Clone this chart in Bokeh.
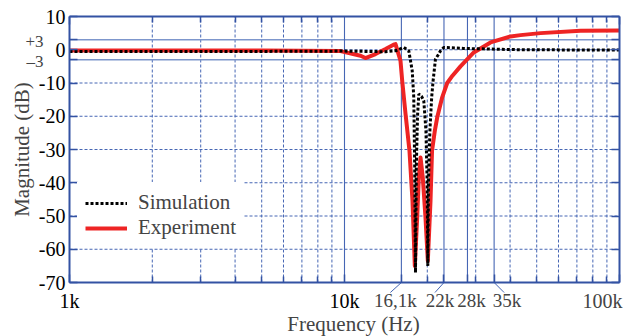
import math
from bokeh.plotting import figure
from bokeh.models import (Range1d, FixedTicker, LogAxis, LinearAxis, LogScale, Label,
                          Legend, LegendItem)
from bokeh.embed import file_html
from bokeh.resources import INLINE

# ---------------- data ----------------
sim_freq = [1000, 5000, 10000, 14100, 15330, 16430, 17130, 17630, 17860, 18000, 18120,
            18250, 18430, 18630, 19050, 19420, 19780, 19980, 20090, 20200, 20450, 20750,
            21000, 21420, 22020, 22340, 23000, 27080, 33960, 43650, 100000]
sim_db = [-0.5, -0.5, -0.4, -0.6, -0.3, 0.7, -0.3, -6.3, -14.3, -35, -67,
          -35, -20, -13.3, -14, -15.3, -24.4, -40, -65, -40, -24, -14.3,
          -9.3, -2.8, -1.3, -0.3, 0.7, 0.4, 0.2, 0.0, -0.1]

exp_freq = [1000, 5000, 6918, 9670, 11440, 11920, 12970, 14100, 15080, 15330, 15980,
            16210, 16670, 17230, 17670, 18020, 18380, 18630, 18900, 19260, 19700, 20090,
            20550, 20810, 21300, 21730, 22660, 23630, 24700, 26410, 29530, 33960, 40140,
            43650, 51620, 72140, 100000]
exp_db = [-0.2, -0.2, -0.3, -0.4, -1.8, -2.5, -1.3, 0.2, 1.5, 1.7, -3.3,
          -9.3, -19.3, -30.4, -45.4, -65, -50.4, -38.4, -32.4, -38.4, -50.4, -63.5,
          -45.4, -30.4, -24.4, -20.4, -14.3, -10, -7.8, -5.0, -0.8, 2.2, 4.0,
          4.4, 5.0, 5.7, 5.8]

y_ticks = [-70, -60, -50, -40, -30, -20, -10, 0, 10]
y_tick_labels = ["-70", "-60", "-50", "-40", "-30", "-20", "-10", "0", "10"]
y_grid = [-60, -50, -40, -30, -20, -10, 0]
band_db = [3, -3]
band_labels = ["+3", "\u20133"]

x_ticks = [1000, 10000, 16100, 23000, 28000, 35000, 100000]
x_tick_labels = ["1k", "10k", "", "", "", "", ""]
x_minor = [2000, 3000, 4000, 5000, 6000, 7000, 8000, 9000,
           20000, 30000, 40000, 50000, 60000, 70000, 80000, 90000]
x_solid = [10000, 16100, 23000, 28000, 35000]

marker_freqs = [16100, 23000, 28000, 35000, 100000]
marker_labels = ["16,1k", "22k", "28k", "35k", "100k"]
marker_label_dx = [-6, -4, 4, 13, -17]     # px shift of label from its tick
marker_leader_dx = [-11, -9, 0, 10, 0]     # px run of leader line (0 = none)

# ---------------- layout / style ----------------
BLUE = "#3352a3"
GRID = "#4666b4"
LIGHT = "#7d96cc"
RED = "#ee2424"
FONT = "Liberation Serif"

W, H = 624, 336
L, R, T, B = 69, 5, 16, 54           # box inset inside the canvas, px
XMIN, XMAX, YMIN, YMAX = 1000, 100000, -70, 10
ppd = (W - L - R) / (math.log10(XMAX) - math.log10(XMIN))   # px per decade
ppdb = (H - T - B) / (YMAX - YMIN)                          # px per dB

x_range = Range1d(10 ** (math.log10(XMIN) - L / ppd), 10 ** (math.log10(XMAX) + R / ppd))
y_range = Range1d(YMIN - B / ppdb, YMAX + T / ppdb)

p = figure(width=W, height=H, x_axis_type="log", x_axis_location=None,
           y_axis_location=None, output_backend="svg", toolbar_location=None,
           x_range=x_range, y_range=y_range, min_border=0)
p.x_scale = LogScale()
p.background_fill_color = "white"
p.border_fill_color = "white"
p.outline_line_color = None
p.grid.visible = False

# ---------- grid ----------
def vlines(xs, **kw):
    p.segment(x0=xs, y0=[YMIN] * len(xs), x1=xs, y1=[YMAX] * len(xs), **kw)

def hlines(ys, **kw):
    p.segment(x0=[XMIN] * len(ys), y0=ys, x1=[XMAX] * len(ys), y1=ys, **kw)

vlines(x_minor, line_color=GRID, line_width=1, line_dash="3 2")
hlines(y_grid, line_color=GRID, line_width=1, line_dash="3 2")
hlines(band_db, line_color=LIGHT, line_width=1.6)
vlines(x_solid, line_color=GRID, line_width=1.1)

# ---------- axes drawn at the box edges ----------
bottom = LogAxis(fixed_location=YMIN, bounds=(XMIN, XMAX),
                 ticker=FixedTicker(ticks=x_ticks, minor_ticks=x_minor))
bottom.major_label_overrides = {float(t): s for t, s in zip(x_ticks, x_tick_labels)}
top = LogAxis(fixed_location=YMAX, bounds=(XMIN, XMAX),
              ticker=FixedTicker(ticks=[XMIN, XMAX], minor_ticks=x_minor))
top.major_label_overrides = {float(XMIN): "", float(XMAX): ""}
left = LinearAxis(fixed_location=XMIN, bounds=(YMIN, YMAX),
                  ticker=FixedTicker(ticks=y_ticks + band_db))
ov = {float(t): s for t, s in zip(y_ticks, y_tick_labels)}
ov.update({float(t): "" for t in band_db})
left.major_label_overrides = ov
right = LinearAxis(fixed_location=XMAX, bounds=(YMIN, YMAX),
                   ticker=FixedTicker(ticks=y_ticks + band_db))
right.major_label_overrides = {float(t): "" for t in y_ticks + band_db}

for ax in (bottom, top, left, right):
    ax.axis_line_color = BLUE
    ax.axis_line_width = 2
    ax.major_tick_line_color = BLUE
    ax.minor_tick_line_color = BLUE
    ax.major_tick_line_width = 1.5
    ax.minor_tick_line_width = 1.5
    ax.major_tick_in = 8
    ax.major_tick_out = 0
    ax.minor_tick_in = 6
    ax.minor_tick_out = 0
    ax.major_label_text_color = "black"
    ax.major_label_text_font = FONT
    ax.major_label_text_font_size = "20px"
bottom.major_label_standoff = 7
left.major_label_standoff = 4
p.add_layout(bottom, "below")
p.add_layout(top, "above")
p.add_layout(left, "left")
p.add_layout(right, "right")

# ---------- curves ----------
red = p.line(exp_freq, exp_db, line_color=RED, line_width=4, line_join="round")
blk = p.line(sim_freq, sim_db, line_color="black", line_width=3, line_dash="3 2")

legend = Legend(items=[LegendItem(label="Simulation", renderers=[blk]),
                       LegendItem(label="Experiment", renderers=[red])],
                location=(77, 88), label_text_font=FONT, label_text_font_size="21px",
                glyph_width=42, glyph_height=20, label_height=20, spacing=-5,
                padding=8, margin=0, label_standoff=11, border_line_alpha=0,
                background_fill_color="white", background_fill_alpha=1)
p.add_layout(legend)

# ---------- texts outside the box ----------
for d, s in zip(band_db, band_labels):
    p.add_layout(Label(x=XMIN, y=d - 0.6, x_offset=-26, text=s, text_align="right",
                       text_baseline="middle", text_font=FONT, text_font_size="17px"))

lab_y = YMIN - 18 / ppdb
for f, s, dx, ldx in zip(marker_freqs, marker_labels, marker_label_dx, marker_leader_dx):
    p.add_layout(Label(x=f, y=lab_y, x_offset=dx, text=s, text_align="center",
                       text_baseline="middle", text_font=FONT,
                       text_font_size="20px" if s == "100k" else "19px"))
    if ldx != 0:
        p.segment(x0=[f], y0=[YMIN], x1=[f * 10 ** (ldx / ppd)], y1=[YMIN - 10 / ppdb],
                  line_color=GRID, line_width=1)

p.add_layout(Label(x=10000, y=YMIN - 41 / ppdb, x_offset=9, text="Frequency (Hz)",
                   text_align="center", text_baseline="middle", text_font=FONT,
                   text_font_size="21px"))
p.add_layout(Label(x=XMIN, y=(YMIN + YMAX) / 2, x_offset=-48, text="Magnitude (dB)",
                   angle=math.pi / 2, text_align="center", text_baseline="middle",
                   text_font=FONT, text_font_size="21px"))

open("out.html", "w").write(file_html(p, INLINE))
